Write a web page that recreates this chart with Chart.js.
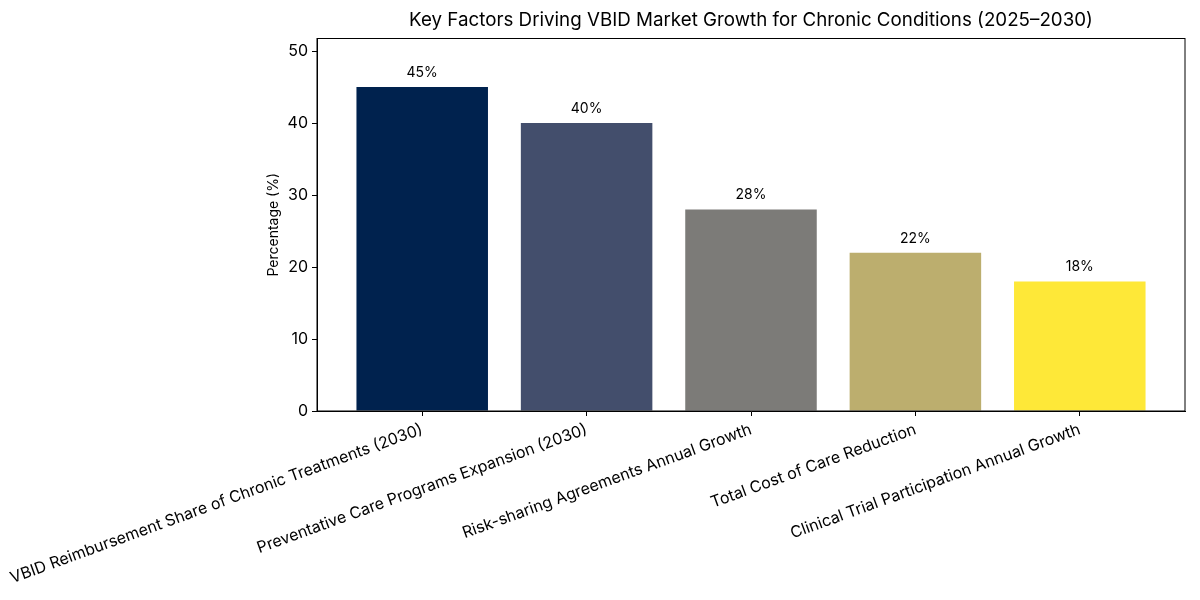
<!DOCTYPE html>
<html>
<head>
<meta charset="utf-8">
<script src="https://cdn.jsdelivr.net/npm/chart.js@4.4.1/dist/chart.umd.min.js"></script>
<style>
	html, body { margin: 0; padding: 0; background: #fff; }
	#wrap { width: 1200px; height: 600px; }
</style>
</head>
<body>
<div id="wrap"><canvas id="vbidChart"></canvas></div>
<script>
var categories = [
	'VBID Reimbursement Share of Chronic Treatments (2030)',
	'Preventative Care Programs Expansion (2030)',
	'Risk-sharing Agreements Annual Growth',
	'Total Cost of Care Reduction',
	'Clinical Trial Participation Annual Growth'
];
var percentages = [45, 40, 28, 22, 18];
var barColors = ['#00224e', '#434e6c', '#7c7b78', '#bcae6e', '#fee838'];
var yTicks = [0, 10, 20, 30, 40, 50];

var fontFamily = 'Inter, "Noto Sans", sans-serif';
Chart.defaults.font.family = fontFamily;
Chart.defaults.color = '#000';

// box round the plot area and value labels above the bars
var framePlugin = {
	id: 'frame',
	afterDatasetsDraw: function (chart) {
		var ctx = chart.ctx;
		var area = chart.chartArea;
		ctx.save();
		ctx.strokeStyle = '#000';
		ctx.lineWidth = 1;
		ctx.strokeRect(area.left, area.top, area.right - area.left, area.bottom - area.top);
		ctx.fillStyle = '#000';
		ctx.font = '14px ' + fontFamily;
		ctx.textAlign = 'center';
		ctx.textBaseline = 'alphabetic';
		chart.getDatasetMeta(0).data.forEach(function (bar, i) {
			ctx.fillText(percentages[i] + '%', bar.x, bar.y - 10);
		});
		ctx.restore();
	}
};

var ctx = document.getElementById('vbidChart').getContext('2d');
var myChart = new Chart(ctx, {
	type: 'bar',
	data: {
		datasets: [{
			data: percentages.map(function (v, i) { return { x: i, y: v }; }),
			backgroundColor: barColors,
			borderWidth: 0,
			barPercentage: 0.8,
			categoryPercentage: 1.0
		}]
	},
	options: {
		responsive: true,
		maintainAspectRatio: false,
		animation: false,
		layout: { padding: { right: 15 } },
		scales: {
			x: {
				type: 'linear',
				min: -0.64,
				max: 4.64,
				offset: false,
				afterBuildTicks: function (scale) {
					scale.ticks = categories.map(function (c, i) { return { value: i }; });
				},
				afterFit: function (scale) {
					scale.height = 189;
					scale.paddingLeft = 0;
				},
				ticks: {
					autoSkip: false,
					minRotation: 20,
					maxRotation: 20,
					padding: 4,
					font: { size: 16 },
					callback: function (value) {
						return categories[value];
					}
				},
				grid: {
					offset: false,
					drawOnChartArea: false,
					drawTicks: true,
					tickLength: 5,
					color: '#000'
				},
				border: { display: true, color: '#000' }
			},
			y: {
				min: 0,
				max: 51.75,
				afterBuildTicks: function (scale) {
					scale.ticks = yTicks.map(function (v) { return { value: v }; });
				},
				afterFit: function (scale) {
					scale.width = 317;
				},
				ticks: {
					padding: 4,
					font: { size: 16 }
				},
				grid: {
					drawOnChartArea: false,
					drawTicks: true,
					tickLength: 5,
					color: '#000'
				},
				border: { display: true, color: '#000' },
				title: {
					display: true,
					text: 'Percentage (%)',
					font: { size: 14 },
					padding: { top: 265, bottom: 0 }
				}
			}
		},
		plugins: {
			legend: { display: false },
			tooltip: { enabled: false },
			title: {
				display: true,
				fullSize: false,
				text: 'Key Factors Driving VBID Market Growth for Chronic Conditions (2025–2030)',
				font: { size: 18.75, weight: 'normal' },
				color: '#000',
				padding: { top: 9, bottom: 7 }
			}
		}
	},
	plugins: [framePlugin]
});
</script>
</body>
</html>
